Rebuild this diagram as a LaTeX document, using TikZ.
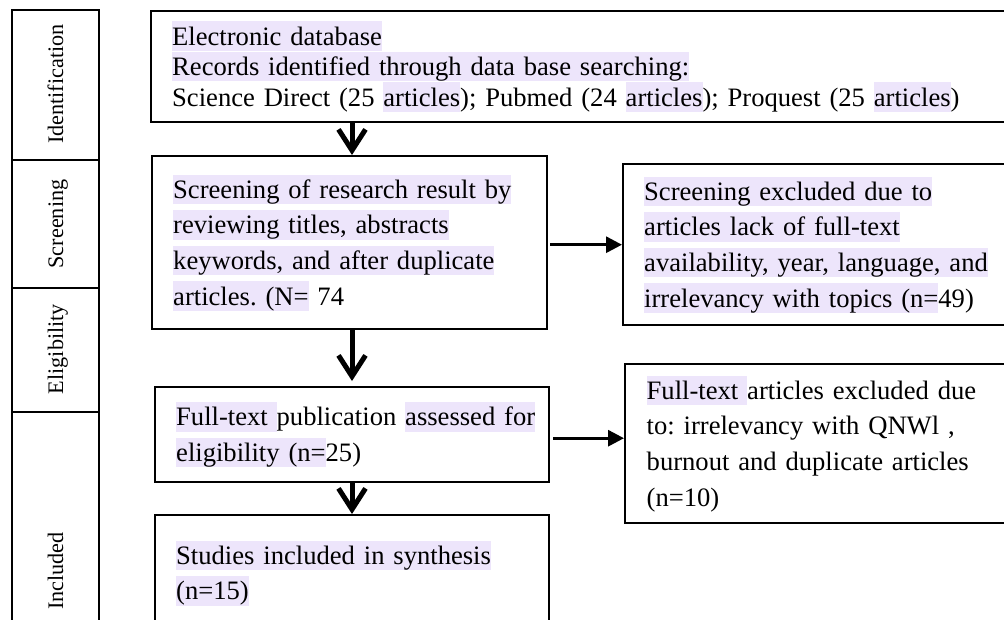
\documentclass[tikz,border=0pt]{standalone}
\usepackage{fontspec}
\setmainfont{Liberation Serif}
\usetikzlibrary{arrows.meta}
\definecolor{hlc}{RGB}{237,229,251}
\newcommand{\hlx}[1]{{\setlength{\fboxsep}{0pt}\colorbox{hlc}{\rule[-0.216em]{0pt}{1.107em}#1}}}
\frenchspacing
\begin{document}
\begin{tikzpicture}[x=1pt,y=-1pt,
  box/.style={draw, line width=2.4pt, anchor=north west, inner xsep=21pt, inner ysep=0pt, align=left, font=\fontsize{26.6}{35.6}\selectfont\frenchspacing},
  stagecell/.style={draw, line width=2pt, anchor=north west, minimum width=87pt, inner sep=0pt},
  stagelbl/.style={rotate=90, anchor=base, font=\fontsize{22.2}{26}\selectfont, inner sep=0pt},
  chev/.style={line width=5pt, -{Straight Barb[length=21pt,width=27pt]}},
  tri/.style={line width=3pt, -{Triangle[length=16pt,width=16pt]}}]
\useasboundingbox (0,0) rectangle (1004,619);
\fill[white] (0,0) rectangle (1004,619);
\clip (0,0) rectangle (1004,619);
% stage column
\node[stagecell, minimum height=150pt] (c1) at (11,9) {};
\node[stagecell, minimum height=128pt] (c2) at (11,159) {};
\node[stagecell, minimum height=124pt] (c3) at (11,287) {};
\node[stagecell, minimum height=240pt] (c4) at (11,411) {};
\node[stagelbl] (l1) at (63,84) {Identification};
\node[stagelbl] (l2) at (63,224) {Screening};
\node[stagelbl] (l3) at (63,349) {Eligibility};
\node[stagelbl] (l4) at (63,571) {Included};
% boxes
\node[box, minimum width=870pt, minimum height=111pt, text width=828pt, font=\fontsize{26.6}{30.5}\selectfont\frenchspacing] (db) at (150,10) {\hlx{Electronic database}\\
\hlx{Records identified through data base searching:}\\
\mbox{Science Direct (25 \hlx{articles}); Pubmed (24 \hlx{articles}); Proquest (25 \hlx{articles})}};
\node[box, minimum width=395pt, minimum height=173pt, text width=353pt] (scr) at (151,155) {\mbox{\hlx{Screening of research result by}}\\
\hlx{reviewing titles, abstracts}\\
\hlx{keywords, and after duplicate}\\
\mbox{\hlx{articles. (N=} 74}};
\node[box, minimum width=400pt, minimum height=161pt, text width=358pt] (ex1) at (622,163) {\hlx{Screening excluded due to}\\
\hlx{articles lack of full-text}\\
\mbox{\hlx{availability, year, language, and}}\\
\mbox{\hlx{irrelevancy with topics (n=}49)}};
\node[box, minimum width=394pt, minimum height=95pt, text width=352pt] (ft) at (154,386) {\mbox{\hlx{Full-text }publication \hlx{assessed for}}\\
\mbox{\hlx{eligibility (n=}25)}};
\node[box, minimum width=394pt, minimum height=116pt, text width=352pt] (inc) at (154,514) {\hlx{Studies included in synthesis}\\
\hlx{(n=15)}};
\node[box, minimum width=400pt, minimum height=159pt, text width=357pt] (ex2) at (624,363) {\mbox{\hlx{Full-text }articles excluded due}\\
\mbox{to: irrelevancy with QNWl ,}\\
\mbox{burnout and duplicate articles}\\
(n=10)};
% connectors
\coordinate (ax) at (352,0);
\draw[chev] (db.south -| ax) -- (scr.north -| ax);
\draw[chev, shorten >=5pt] (scr.south -| ax) -- (ft.north -| ax);
\draw[chev] (ft.south -| ax) -- (inc.north -| ax);
\draw[tri, shorten <=2pt] (ex1.west -| scr.east) -- (ex1.west);
\draw[tri, shorten <=3pt] ([yshift=-3.5pt]ft.east) -- ([yshift=-3.5pt]ft.east -| ex2.west);
\end{tikzpicture}
\end{document}
